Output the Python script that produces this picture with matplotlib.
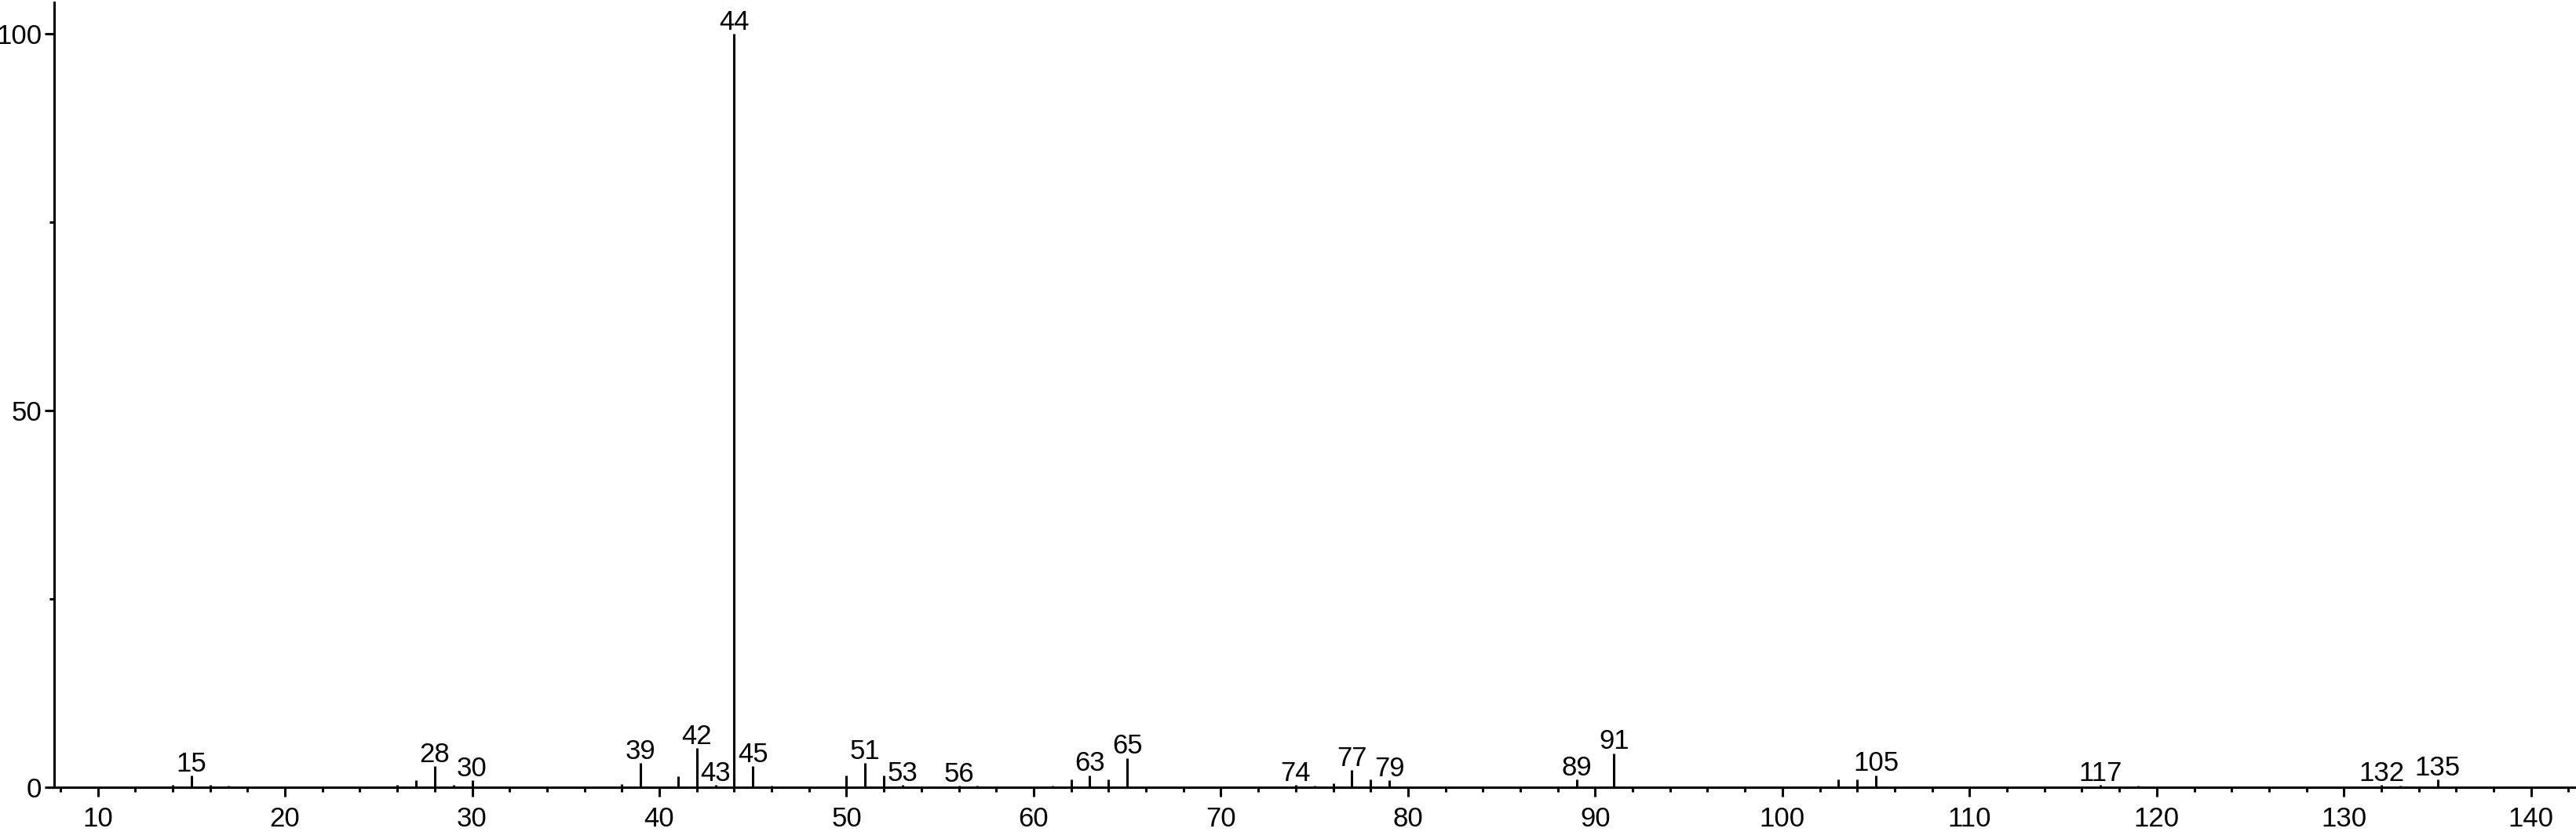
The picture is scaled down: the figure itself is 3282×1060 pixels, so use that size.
import numpy as np
import matplotlib
matplotlib.use("Agg")
import matplotlib.pyplot as plt
from matplotlib.ticker import MultipleLocator

# ------ donnees du spectre (m/z, intensite relative %) ------
mz = [14, 15, 16, 17, 26, 27, 28, 29, 30, 38, 39, 41, 42, 43, 44, 45, 46,
      50, 51, 52, 53, 56, 57, 61, 62, 63, 64, 65, 74, 75, 76, 77, 78, 79,
      89, 91, 103, 104, 105, 117, 119, 132, 133, 135]
intensite = [0.3, 1.55, 0.3, 0.2, 0.3, 0.95, 2.8, 0.3, 0.95, 0.4, 3.2, 1.5, 5.2,
             0.3, 100.0, 2.8, 0.2, 1.6, 3.2, 1.6, 0.3, 0.2, 0.2, 0.2, 1.0,
             1.6, 1.0, 3.9, 0.3, 0.2, 0.5, 2.3, 1.0, 0.9, 1.0, 4.5, 1.0, 1.0,
             1.6, 0.3, 0.2, 0.3, 0.2, 1.0]
# pics annotes
pics_labels = [15, 28, 30, 39, 42, 43, 44, 45, 51, 53, 56, 63, 65, 74, 77,
               79, 89, 91, 105, 117, 132, 135]

xticks_major = [10, 20, 30, 40, 50, 60, 70, 80, 90, 100, 110, 120, 130, 140]
yticks_major = [0, 50, 100]

police, taille = "Liberation Sans", 25
plt.rcParams["font.family"] = [police, "DejaVu Sans"]

lw = 2.2
fig = plt.figure(figsize=(32.82, 10.60), dpi=100)
ax = fig.add_axes([69/3282, 57/1060, 1 - 69/3282, 1000/1060])

ax.vlines(mz, 0, intensite, colors="black", linewidth=lw)

for m, h in zip(mz, intensite):
    if m in pics_labels:
        ax.annotate("%d" % m, (m, h), xytext=(0, -1.2), textcoords="offset points",
                    ha="center", va="bottom", fontsize=taille, clip_on=False)

ax.set_xlim(7.67, 142.4)
ax.set_ylim(0, 104.2)
ax.set_xticks(xticks_major)
ax.xaxis.set_minor_locator(MultipleLocator(2))
ax.set_yticks(yticks_major)
ax.yaxis.set_minor_locator(MultipleLocator(25))

for s in ["top", "right"]:
    ax.spines[s].set_visible(False)
for s in ["left", "bottom"]:
    ax.spines[s].set_linewidth(lw)

ax.tick_params(axis="both", which="major", length=8.6, width=lw,
               labelsize=taille, direction="out")
ax.tick_params(axis="both", which="minor", length=4.0, width=lw,
               direction="out")
ax.tick_params(axis="x", which="major", pad=9)
ax.tick_params(axis="y", which="major", pad=2.8)

fig.savefig("out.png", dpi=100)
